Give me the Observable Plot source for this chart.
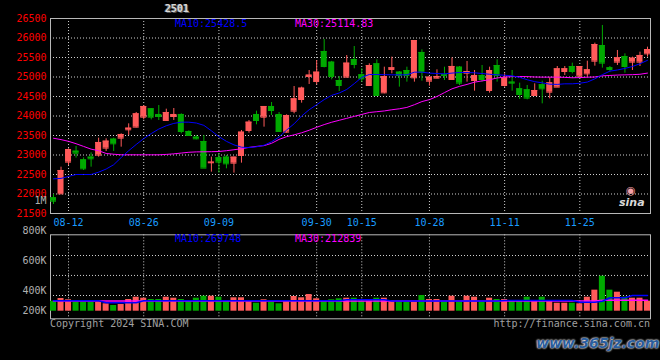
<!DOCTYPE html>
<html><head><meta charset="utf-8">
<script src="https://cdn.jsdelivr.net/npm/d3@7"></script>
<script src="https://cdn.jsdelivr.net/npm/@observablehq/plot@0.6"></script>
<style>
html,body{margin:0;padding:0;background:#000;}
#wrap{position:relative;width:660px;height:360px;background:#000;overflow:hidden;font-family:"DejaVu Sans Mono",monospace;}
#wrap svg{position:absolute;left:0;}
.t{position:absolute;white-space:nowrap;font-size:10px;line-height:10px;font-family:"DejaVu Sans Mono",monospace;}
</style></head>
<body><div id="wrap"></div>
<script>
// ---- data ----
const open = [21903,22004,22817,23098,22876,22945,22996,23176,23406,23432,
23646,23714,23970,24184,24039,23885,23987,24039,23603,23457,
23346,22800,22928,22945,22791,22987,23628,24039,23970,24244,
24039,23586,24124,24423,25013,24884,25654,25380,24910,24996,
25449,25056,24782,25338,24594,25193,25124,25167,24979,25629,
24893,24970,25056,24936,25252,25098,24910,25039,24654,25295,
24782,24868,24697,24671,24526,24800,24611,24740,25141,25269,
25022,25081,25406,25808,25235,25381,25526,25381,25381,25594];
const high = [21987,22688,23158,23218,22928,23056,23432,23415,23432,23543,
23799,24090,24262,24190,24269,24175,24192,24056,23620,23500,
23500,22945,23030,22987,22945,23628,23885,24124,24244,24346,
24090,24030,24756,24740,25167,25423,25962,25400,25013,25551,
25782,25210,25338,25440,25252,25509,25140,25252,25936,25697,
24996,25184,25252,25491,25269,25398,25167,25295,25252,25440,
25081,25167,24842,24782,24825,24893,24979,25269,25269,25355,
25269,25406,25868,26321,25269,25680,25594,25509,25637,25765];
const low = [21731,21990,22730,22920,22603,22688,22945,23090,23090,23201,
23500,23697,23900,23900,23885,23870,23885,23543,23480,23389,
22663,22560,22535,22646,22535,22791,23560,23774,23714,24013,
23586,23560,24056,24329,24808,24800,25235,24928,24628,24979,
25210,24868,24782,24500,24569,25081,24740,24868,24868,24893,
24765,24953,24910,24936,24782,24868,24637,24868,24586,24868,
24740,24637,24424,24415,24526,24312,24440,24740,25039,25081,
24979,24996,25278,25227,25124,25295,25098,25167,25269,25509];
const close = [21816,22603,23141,23047,22646,22902,23321,23355,23287,23526,
23688,24056,24244,23970,23987,24090,24039,23603,23500,23415,
22663,22817,22817,22774,22945,23586,23842,23885,24244,24141,
23603,24013,24440,24714,25048,25124,25270,25013,24782,25355,
25321,24953,25295,24526,25013,25235,25039,25039,25936,25124,
24996,25013,25039,25270,24842,25141,25039,24936,25167,25039,
24979,24842,24552,24458,24654,24697,24850,25210,25210,25141,
25269,25184,25833,25355,25193,25492,25269,25483,25552,25705];
const ma10 = [22389,22400,22450,22500,22500,22500,22560,22640,22750,22935,
23110,23270,23420,23550,23665,23750,23810,23842,23842,23820,
23760,23620,23470,23350,23260,23200,23190,23210,23250,23340,
23460,23640,23800,24000,24160,24290,24420,24530,24590,24680,
24830,24990,25064,25064,25060,25056,25056,25056,25124,25124,
25100,25090,25081,25100,25115,25115,25107,25090,25070,25055,
25045,25030,24990,24930,24880,24850,24815,24810,24825,24825,
24840,24870,24953,25060,25150,25180,25220,25270,25340,25428];
const ma30 = [23430,23395,23350,23290,23220,23150,23110,23040,23020,23005,
23005,23005,23005,23005,23005,23015,23030,23050,23070,23080,
23082,23085,23090,23110,23135,23160,23195,23220,23240,23300,
23400,23470,23517,23570,23635,23710,23780,23840,23890,23940,
23990,24040,24090,24110,24130,24160,24185,24220,24290,24370,
24420,24500,24600,24697,24760,24810,24868,24900,24930,24975,
24998,25010,25013,25010,25000,24996,24996,24996,24990,24980,
24985,24995,25000,25030,25040,25050,25055,25060,25070,25100];
const volume = [300000,327000,314000,290000,290000,290000,287000,274000,257000,267000,
317000,340000,330000,317000,317000,340000,330000,317000,297000,330000,
350000,350000,340000,300000,334000,334000,297000,280000,314000,290000,
274000,300000,347000,334000,367000,324000,307000,314000,324000,330000,
330000,300000,300000,330000,330000,300000,300000,290000,290000,357000,
317000,317000,300000,350000,300000,350000,340000,300000,330000,317000,
317000,300000,300000,340000,300000,340000,300000,280000,280000,280000,
274000,340000,407000,500000,407000,390000,340000,330000,330000,300000];
const volMa10 = [305000,305000,305000,305000,305000,305000,305000,285000,285000,285000,
285000,285000,305000,305000,305000,305000,305000,305000,305000,305000,
305000,305000,305000,305000,305000,305000,305000,305000,305000,305000,
305000,305000,305000,305000,305000,305000,305000,305000,305000,314000,
314000,314000,314000,314000,314000,302000,302000,302000,302000,302000,
302000,302000,302000,302000,302000,302000,302000,302000,302000,302000,
307000,307000,307000,307000,307000,307000,307000,307000,307000,307000,
290000,290000,290000,300000,334000,334000,334000,357000,357000,357000];
const volMa30 = [301000,301000,301000,301000,301000,301000,301000,301000,301000,301000,
301000,301000,301000,301000,301000,301000,301000,301000,301000,301000,
301000,301000,301000,301000,301000,301000,301000,301000,301000,301000,
301000,301000,301000,301000,301000,301000,301000,301000,301000,301000,
301000,301000,301000,301000,301000,301000,301000,301000,301000,301000,
301000,301000,301000,301000,301000,301000,301000,301000,301000,301000,
303000,303000,303000,303000,303000,303000,303000,303000,303000,303000,
303000,303000,303000,310000,310000,310000,310000,310000,310000,310000];
const priceTicks = [21500,22000,22500,23000,23500,24000,24500,25000,25500,26000,26500];
const dateTickIdx = [2,12,22,35,41,50,60,70];
const dateTickLabels = ["08-12","08-26","09-09","09-30","10-15","10-28","11-11","11-25"];
const volTicks = [200000,400000,600000,800000,1000000];
const volTickLabels = ["200K","400K","600K","800K","1M"];
const volGrid = [357000,505000,638000];

// ---- build ----
const RED = "#ff5a5a", GREEN = "#00aa00", GRID = "#d0d0d0", FRAME = "#b8b8b8";
const rows = open.map((o, i) => ({
  i, o, h: high[i], l: low[i], c: close[i],
  col: close[i] >= o ? RED : GREEN,
  m10: ma10[i], m30: ma30[i], v: volume[i], vm10: volMa10[i], vm30: volMa30[i]
}));
const xScale = {type: "band", domain: d3.range(open.length), paddingInner: 0.2, paddingOuter: 0, axis: null};
const baseStyle = {background: "transparent", color: "#c0c0c0", fontFamily: "DejaVu Sans Mono, monospace", fontSize: "10px"};
const dateFmt = d => dateTickLabels[dateTickIdx.indexOf(d)];

const main = Plot.plot({
  width: 660, height: 232, marginLeft: 50, marginRight: 10, marginTop: 18, marginBottom: 19,
  style: baseStyle,
  x: xScale,
  y: {domain: [21500, 26500], axis: null},
  color: {type: "identity"},
  marks: [
    Plot.ruleY(priceTicks.slice(1, -1), {stroke: GRID, strokeDasharray: "1,2"}),
    Plot.ruleX(dateTickIdx, {stroke: GRID, strokeDasharray: "1,2"}),
    Plot.frame({stroke: FRAME}),
    Plot.ruleX(rows, {x: "i", y1: "l", y2: "h", stroke: "col"}),
    Plot.barY(rows, {x: "i", y1: "o", y2: "c", fill: "col"}),
    Plot.tickY(rows, {x: "i", y: "c", stroke: "col"}),
    Plot.tickY(rows, {x: "i", y: "o", stroke: "col"}),
    Plot.line(rows, {x: "i", y: "m30", stroke: "#ff00ff", strokeWidth: 1}),
    Plot.line(rows, {x: "i", y: "m10", stroke: "#0000ff", strokeWidth: 1}),
    Plot.axisY(priceTicks, {tickSize: 0, tickPadding: 4, color: "#ff0000", fill: "#ff0000", tickFormat: d => String(d), label: null}),
    Plot.axisX(dateTickIdx, {tickSize: 0, tickPadding: 5, color: "#1a9cff", fill: "#1a9cff", tickFormat: dateFmt, label: null})
  ]
});
main.style.top = "0px";

const vol = Plot.plot({
  width: 660, height: 170, marginLeft: 50, marginRight: 10, marginTop: 44.3, marginBottom: 41.7,
  style: baseStyle,
  x: xScale,
  y: {type: "linear", domain: [200000, 400000, 1000000], range: [120.7, 100.7, 10.7], clamp: true, axis: null},
  color: {type: "identity"},
  marks: [
    Plot.ruleY(volGrid, {stroke: GRID, strokeDasharray: "1,2"}),
    Plot.ruleX(dateTickIdx, {stroke: GRID, strokeDasharray: "1,2"}),
    Plot.frame({stroke: FRAME}),
    Plot.barY(rows, {x: "i", y1: 0, y2: "v", fill: "col"}),
    Plot.line(rows, {x: "i", y: "vm30", stroke: "#ff00ff", strokeWidth: 1.5}),
    Plot.line(rows, {x: "i", y: "vm10", stroke: "#0000ff", strokeWidth: 1.5}),
    Plot.axisY(volTicks, {tickSize: 0, tickPadding: 4, color: "#b0b0b0", fill: "#b0b0b0", tickFormat: d => volTickLabels[volTicks.indexOf(d)], label: null})
  ]
});
vol.style.top = "190px";

const wrap = document.getElementById("wrap");
wrap.appendChild(main);
wrap.appendChild(vol);

function addText(txt, css) {
  const d = document.createElement("div");
  d.className = "t";
  d.textContent = txt;
  Object.assign(d.style, css);
  wrap.appendChild(d);
}
addText("2501", {left: "165px", top: "4px", color: "#d8d8d8", fontWeight: "bold", textShadow: "1px 1px 0 #555, -1px 0 0 #777"});
addText("MA10:25428.5", {left: "175px", top: "19px", color: "#0000ff"});
addText("MA30:25114.83", {left: "295px", top: "19px", color: "#ff00ff"});
addText("MA10:269748", {left: "175px", top: "233.5px", color: "#0000ff"});
addText("MA30:212839", {left: "295px", top: "233.5px", color: "#ff00ff"});
addText("Copyright 2024 SINA.COM", {left: "50px", top: "319px", color: "#a0a0a0"});
addText("http://finance.sina.com.cn", {right: "10px", top: "319px", color: "#a0a0a0"});
addText("◉", {left: "626px", top: "185px", color: "#f4a0a8", fontSize: "11px", lineHeight: "11px", fontFamily: "DejaVu Sans, sans-serif"});
addText("sina", {left: "619px", top: "197px", color: "#d8d8d8", fontStyle: "italic", fontWeight: "bold", fontSize: "11px", lineHeight: "11px", fontFamily: "DejaVu Sans, sans-serif"});
addText("www.365jz.com", {left: "536px", top: "335px", color: "#2b5d9c", fontStyle: "italic", fontWeight: "bold", fontSize: "14px", lineHeight: "16px", fontFamily: "DejaVu Sans, sans-serif", textShadow: "0 0 2px #fff, 0 0 2px #fff"});
</script>
</body></html>
